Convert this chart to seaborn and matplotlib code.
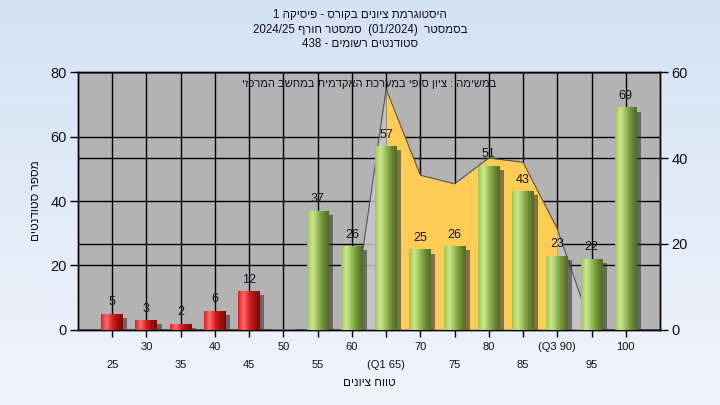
import re

import matplotlib

matplotlib.use("Agg")
import matplotlib.patheffects as pe
import matplotlib.pyplot as plt
import numpy as np
import pandas as pd
import seaborn as sns
from matplotlib.colors import LinearSegmentedColormap

# chart data
grades = [25, 30, 35, 40, 45, 50, 55, 60, 65, 70, 75, 80, 85, 90, 95, 100]
counts = [5, 3, 2, 6, 12, 0, 37, 26, 57, 25, 26, 51, 43, 23, 22, 69]
passed = [False, False, False, False, False, False, True, True, True, True, True, True, True, True, True, True]
tick_names = ["25", "30", "35", "40", "45", "50", "55", "60", "(Q1 65)", "70", "75", "80", "85", "(Q3 90)", "95", "100"]

# shaded area on the right axis
area_grades = [60, 65, 70, 75, 80, 85, 90, 95]
area_values = [1, 56, 36, 34, 40, 39, 23.5, 0.5]
q1_grade, q3_grade = 65, 90

title_lines = [
    "היסטוגרמת ציונים בקורס - פיסיקה 1",
    "בסמסטר  (01/2024)  סמסטר חורף 2024/25",
    "סטודנטים רשומים - 438",
]
note_text = "במשימה : ציון סופי במערכת האקדמית במחשב המרכזי"
x_title = "טווח ציונים"
y_title = "מספר סטודנטים"


def rtl(s):
    # crude bidi: reverse the Hebrew, keep number runs as they are
    tokens = re.findall(r"[0-9A-Za-z/.]+|.", s)
    mirror = {"(": ")", ")": "("}
    return "".join(mirror.get(t, t) for t in reversed(tokens))


sns.set_style("ticks")
plt.rcParams["font.family"] = ["Liberation Sans", "DejaVu Sans"]
text_color = "#101020"

fig = plt.figure(figsize=(7.2, 4.05), dpi=100)

# light blue page gradient
bg = fig.add_axes([0, 0, 1, 1], zorder=-10)
bg.imshow(np.linspace(0, 1, 256).reshape(-1, 1),
          cmap=LinearSegmentedColormap.from_list("bg", ["#D4E2F4", "#F0F5FC"]),
          aspect="auto", extent=[0, 1, 0, 1])
bg.axis("off")

ax = fig.add_axes([0.1083, 0.1852, 0.8084, 0.637])
ax2 = ax.twinx()
ax.set_zorder(2)
ax2.set_zorder(1)
ax.patch.set_visible(False)
ax2.patch.set_visible(True)
ax2.patch.set_facecolor("#B3B3B3")

df = pd.DataFrame({"grade": [str(g) for g in grades], "count": counts,
                   "passed": passed})
palette = {str(g): ("#9CC850" if p else "#E82020") for g, p in zip(grades, passed)}
sns.barplot(data=df, x="grade", y="count", hue="grade", palette=palette,
            width=0.64, legend=False, saturation=1, ax=ax, zorder=3)

red_map = LinearSegmentedColormap.from_list("red", ["#F01818", "#FF7070", "#E02020", "#A01212", "#7A0C0C"])
green_map = LinearSegmentedColormap.from_list("green", ["#9CC84E", "#CDE690", "#98BC56", "#6E8A38", "#526A28"])
grad = np.linspace(0, 1, 64).reshape(1, -1)

for p in ax.patches:
    h = p.get_height()
    if h <= 0:
        continue
    x0 = p.get_x()
    idx = int(round(x0 + p.get_width() / 2))
    p.set_edgecolor("none")
    p.set_path_effects([pe.SimplePatchShadow(offset=(3, -3), shadow_rgbFace="#333333", alpha=0.6),
                        pe.Normal()])
    im = ax.imshow(grad, cmap=green_map if passed[idx] else red_map, aspect="auto",
                   extent=[x0, x0 + p.get_width(), 0, h], zorder=3.5)
    im.set_clip_path(p)
    ax.annotate(str(counts[idx]), (idx, h), xytext=(0, 4), textcoords="offset points",
                ha="center", va="bottom", fontsize=9, color=text_color, zorder=5)

# area on the right scale, drawn inside ax so it sits under the bars but over the grid
ax_x = np.array([grades.index(g) for g in area_grades], dtype=float)
av = np.array(area_values)
lo, hi = grades.index(q1_grade), grades.index(q3_grade)
ax.fill_between(ax_x, 0, av, where=ax_x <= lo, color="#C6C6C6", alpha=0.85,
                transform=ax2.transData, zorder=1, lw=0)
ax.fill_between(ax_x, 0, av, where=ax_x >= hi, color="#C6C6C6", alpha=0.85,
                transform=ax2.transData, zorder=1, lw=0)
ax.fill_between(ax_x, 0, av, where=(ax_x >= lo) & (ax_x <= hi), color="#FFCC55",
                transform=ax2.transData, zorder=1.2, lw=0)
sns.lineplot(x=ax_x, y=av, color="#555555", lw=0.8, ax=ax, transform=ax2.transData, zorder=1.3)

ax.set_xlim(-1, len(grades))
ax.set_ylim(0, 80)
ax2.set_ylim(0, 60)
ax.set_yticks(np.arange(0, 81, 20))
ax2.set_yticks(np.arange(0, 61, 20))

ax.set_axisbelow(True)
ax.grid(True, color="black", lw=1)
ax2.grid(True, axis="y", color="black", lw=1)
ax2.grid(False, axis="x")

labels = [("" if i % 2 else "\n") + t for i, t in enumerate(tick_names)]
ax.set_xticks(range(len(grades)))
ax.set_xticklabels(labels, fontsize=8, color=text_color, linespacing=1.9)
ax.tick_params(axis="x", length=5, width=1, color="black", pad=4)
ax.tick_params(axis="y", length=6, width=1, color="black", labelsize=10.5, labelcolor=text_color, pad=2)
ax2.tick_params(axis="y", length=6, width=1, color="black", labelsize=10.5, labelcolor=text_color, pad=2)

for a in (ax, ax2):
    for s in a.spines.values():
        s.set_color("black")
        s.set_linewidth(1)

ax.set_xlabel(rtl(x_title), fontsize=8.5, color=text_color, labelpad=5)
ax.set_ylabel(rtl(y_title), fontsize=8.5, color=text_color, labelpad=6)
ax2.set_ylabel("")

ax.text(0.5, 0.952, rtl(note_text), transform=ax.transAxes, ha="center", va="center",
        fontsize=8, color=text_color, zorder=6)

fig.text(0.5, 0.978, "\n".join(rtl(t) for t in title_lines), ha="center", va="top",
         fontsize=8.3, color=text_color, linespacing=1.3)

fig.savefig("out.png", dpi=100, facecolor=fig.get_facecolor())
